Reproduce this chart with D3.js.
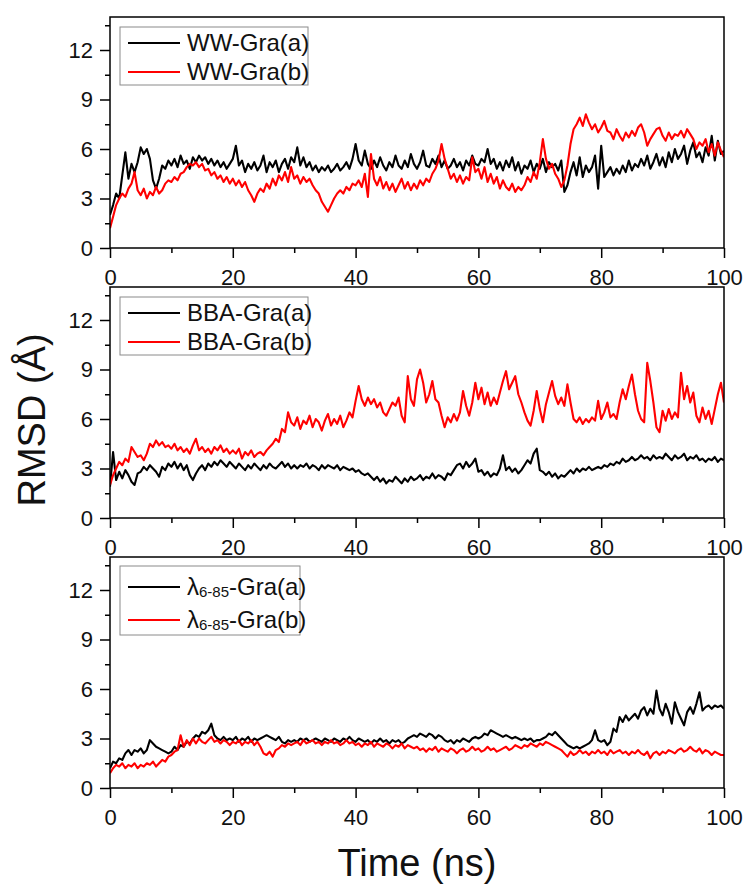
<!DOCTYPE html>
<html>
<head>
<meta charset="utf-8">
<script src="https://cdn.jsdelivr.net/npm/d3@7"></script>
<style>
  html, body { margin: 0; padding: 0; background: #fff; }
  svg { display: block; font-family: "Liberation Sans", Arial, sans-serif; }
</style>
</head>
<body>
<div id="chart"></div>
<script>
// time axis (ns), one sample every 0.5 ns
const timeStep = 0.5;
const xTicksMajor = [0, 20, 40, 60, 80, 100];
const yTicksMajor = [0, 3, 6, 9, 12];

// WW-Gra
const wwA = [
  2.0, 2.6, 3.3, 3.0, 4.4, 5.8, 4.2, 5.1, 4.6, 5.2, 6.1, 5.7, 6.0, 5.4, 4.1, 3.6, 4.2, 5.0, 4.8, 5.3,
  5.0, 5.4, 4.9, 5.6, 5.1, 5.3, 4.8, 5.5, 5.2, 5.6, 5.3, 5.5, 5.1, 5.4, 5.0, 5.3, 4.9, 5.2, 4.8, 5.1,
  5.4, 6.2, 5.0, 5.3, 4.6, 5.1, 4.8, 5.2, 4.7, 5.0, 5.6, 4.6, 5.2, 4.9, 5.3, 4.6, 5.1, 5.4, 4.8, 5.5,
  5.2, 6.1, 5.0, 5.5, 4.9, 5.2, 4.7, 5.0, 4.6, 4.9, 4.7, 5.0, 4.6, 4.8, 5.1, 4.7, 4.9, 5.2, 4.8, 5.4,
  6.3, 5.3, 5.0, 5.9, 5.1, 4.8, 5.3, 4.9, 5.5, 5.0, 4.7, 5.2, 4.9, 5.6, 5.0, 4.8, 5.3, 4.9, 5.7, 5.1,
  4.8, 5.2, 5.9, 5.0, 4.9, 5.4, 5.1, 5.6, 4.9, 5.3, 4.8, 5.0, 5.4, 4.9, 5.2, 4.7, 5.3, 5.0, 5.6, 5.1,
  5.0, 5.4, 5.2, 6.0, 5.1, 5.4, 4.8, 5.2, 4.7, 5.3, 4.9, 5.5, 4.7, 5.2, 4.5, 5.0, 4.8, 5.3, 4.6, 5.1,
  4.8, 5.4, 4.6, 5.2, 4.9, 5.1, 4.7, 5.3, 3.4, 3.8, 4.6, 5.2, 4.4, 5.5, 4.3, 5.0, 4.6, 4.9, 5.6, 3.6,
  6.2, 4.3, 4.6, 4.9, 4.4, 4.8, 4.5, 5.0, 4.6, 5.3, 4.7, 5.1, 4.9, 5.4, 5.0, 5.6, 4.8, 5.2, 5.7, 5.0,
  5.5, 4.9, 5.8, 5.2, 6.0, 5.4, 5.7, 6.2, 5.1, 5.9, 6.4, 5.5, 5.8, 5.2, 6.1, 5.6, 6.8, 5.3, 6.5, 5.7,
  5.9
];
const wwB = [
  1.2, 1.9, 2.6, 3.0, 3.3, 3.1, 3.6, 3.9, 4.6, 3.5, 3.2, 3.6, 3.0, 3.4, 3.2, 3.7, 3.3, 3.5, 3.9, 4.1,
  4.0, 4.3, 4.1, 4.5, 4.6, 4.9, 5.1, 5.0, 5.2, 4.9, 5.1, 4.7, 4.8, 4.4, 4.6, 4.2, 4.4, 4.0, 4.3, 3.9,
  4.2, 3.8, 4.1, 3.7, 4.0, 3.5, 3.2, 2.8, 3.3, 3.6, 3.4, 3.9, 3.6, 4.2, 3.8, 4.4, 4.1, 4.6, 4.0, 4.9,
  4.2, 4.4, 3.9, 4.3, 4.0, 4.2, 3.8, 3.5, 3.3, 2.8, 2.5, 2.2, 2.6, 3.0, 3.3, 3.5, 3.3, 3.7, 3.5, 3.9,
  3.8, 4.1, 3.7, 4.5, 3.1, 5.7, 4.2, 3.8, 4.3, 3.6, 4.0, 3.5, 3.9, 3.4, 3.8, 4.2, 3.6, 4.0, 3.5, 3.9,
  3.6, 4.1, 3.8, 4.2, 4.0, 4.5, 4.8, 5.3, 6.3, 5.4, 4.8, 4.2, 4.5, 4.0, 4.4, 3.9, 4.3, 4.1, 5.5, 4.6,
  4.8, 4.2, 4.9, 4.0, 4.5, 3.9, 4.3, 3.6, 4.1, 3.7, 3.5, 3.9, 3.4, 3.7, 3.5, 3.8, 4.3, 4.0, 4.6, 4.2,
  5.2, 6.6, 5.4, 4.8, 5.1, 4.5, 4.2, 3.7, 4.1, 5.0, 6.3, 7.2, 7.5, 7.9, 7.4, 8.1, 7.6, 7.2, 7.5, 7.0,
  7.3, 7.7, 7.1, 7.0, 6.6, 7.2, 6.8, 6.5, 7.0, 6.7, 7.1, 6.8, 7.3, 7.5, 7.0, 6.2, 6.6, 6.9, 7.2, 7.3,
  6.8, 6.5, 7.0, 6.6, 6.9, 6.8, 7.1, 6.7, 7.2, 6.9, 6.6, 6.0, 6.4, 6.2, 6.6, 5.8, 6.3, 5.6, 6.4, 5.9,
  5.5
];

// BBA-Gra
const bbaA = [
  1.9, 4.0, 2.3, 2.8, 2.4, 2.9, 2.6, 2.2, 2.0, 2.7, 2.8, 3.1, 2.9, 3.2, 3.0, 2.8, 2.5, 3.1, 2.9, 3.3,
  3.1, 3.4, 3.0, 3.3, 2.9, 3.2, 2.6, 2.3, 2.7, 3.0, 3.2, 2.9, 3.3, 3.1, 3.4, 3.2, 3.5, 3.3, 3.1, 3.4,
  3.2, 3.0, 3.3, 3.1, 2.9, 3.2, 3.0, 3.3, 3.1, 2.9, 3.2, 3.0, 3.3, 3.1, 3.0, 3.2, 3.4, 3.1, 3.3, 3.0,
  3.2, 3.0, 3.2, 3.1, 3.3, 3.0, 3.2, 3.1, 2.9, 3.2, 3.0, 3.2, 3.1, 3.0, 3.2, 2.9, 3.1, 3.0, 2.9, 3.0,
  2.8, 2.9, 2.7, 2.6, 2.7, 2.5, 2.3, 2.5, 2.2, 2.4, 2.1, 2.3, 2.2, 2.5, 2.3, 2.1, 2.4, 2.2, 2.5, 2.3,
  2.4, 2.6, 2.3, 2.5, 2.4, 2.7, 2.4, 2.6, 2.5, 2.3, 2.7, 2.6, 2.9, 3.2, 3.3, 3.0, 3.4, 3.1, 3.3, 3.6,
  2.8, 2.9, 2.6, 2.8, 2.5, 2.7, 2.6, 3.0, 3.8, 2.9, 3.1, 2.8, 3.0, 2.7, 2.9, 3.2, 3.5, 3.3, 3.9, 4.2,
  2.9, 2.8, 2.6, 2.8, 2.5, 2.7, 2.4, 2.6, 2.5, 2.7, 2.9, 2.7, 3.0, 2.8, 3.0, 2.9, 3.1, 2.9, 3.0, 3.1,
  3.0, 3.2, 3.1, 3.3, 3.2, 3.4, 3.3, 3.6, 3.4, 3.5, 3.7, 3.5, 3.6, 3.8, 3.6, 3.7, 3.5, 3.8, 3.6, 3.7,
  3.6, 3.9, 3.7, 3.5, 3.8, 3.6, 3.7, 3.9, 3.5, 3.7, 3.6, 3.8, 3.5, 3.6, 3.4, 3.6, 3.5, 3.7, 3.4, 3.6,
  3.5
];
const bbaB = [
  2.0, 2.6, 3.0, 3.4, 3.2, 3.6, 3.4, 4.3, 4.0, 3.7, 3.8, 3.5, 3.9, 4.5, 4.3, 4.7, 4.4, 4.6, 4.3, 4.4,
  4.2, 4.5, 4.1, 4.3, 4.0, 4.2, 3.9, 4.4, 4.8, 4.1, 4.3, 4.0, 4.2, 3.9, 4.3, 4.1, 4.4, 4.0, 4.2, 3.9,
  4.1, 3.9, 4.2, 3.6, 4.0, 3.8, 4.1, 3.7, 3.9, 4.0, 3.8, 4.1, 4.3, 4.5, 4.8, 4.6, 5.4, 5.2, 6.4, 5.8,
  5.6, 6.1, 5.4, 5.9, 5.7, 6.2, 5.5, 6.0, 5.8, 5.3, 5.9, 6.3, 5.6, 6.0, 5.7, 6.2, 5.5, 5.9, 6.4, 6.1,
  7.1, 8.0, 7.2, 6.8, 7.3, 6.9, 7.2, 6.7, 7.0, 6.4, 6.2, 6.6, 7.0, 6.8, 7.3, 6.2, 5.8, 8.6, 7.2, 6.8,
  8.4, 9.0, 8.2, 7.0, 7.5, 8.3, 7.2, 7.0, 6.2, 5.5, 6.1, 5.8, 6.3, 5.9, 6.4, 7.7, 6.8, 6.2, 7.0, 8.2,
  7.2, 7.9, 6.9, 7.6, 6.8, 7.3, 6.9, 7.6, 8.3, 8.9, 7.8, 8.2, 8.6, 7.5, 7.0, 6.4, 5.9, 5.6, 6.5, 7.7,
  6.6, 5.8, 6.9, 7.6, 8.3, 7.4, 6.9, 7.3, 6.8, 8.1, 7.0, 6.0, 5.8, 6.1, 5.7, 6.0, 5.8, 6.1, 5.9, 7.1,
  6.0, 6.4, 7.0, 6.1, 6.3, 6.0, 7.0, 7.8, 7.2, 8.0, 8.7, 7.5, 6.5, 6.0, 5.8, 9.4, 8.3, 7.0, 5.5, 5.2,
  6.5, 5.9, 6.6, 6.0, 6.4, 6.1, 8.8, 7.2, 8.0, 7.0, 7.6, 6.2, 5.8, 6.7, 6.0, 6.5, 5.7, 6.6, 7.5, 8.2,
  7.0
];

// lambda 6-85 - Gra
const lamA = [
  1.2, 1.6, 1.5, 1.8, 1.7, 2.1, 2.3, 2.0, 2.3, 2.2, 2.4, 2.1, 2.3, 2.9, 2.7, 2.5, 2.4, 2.3, 2.2, 2.1,
  2.2, 2.5, 2.3, 2.6, 2.5, 2.8, 2.7, 3.0, 3.2, 3.1, 3.4, 3.3, 3.5, 3.9, 3.2, 3.0, 2.9, 3.1, 2.9, 3.0,
  2.9, 3.1, 2.8, 3.0, 2.9, 3.1, 2.8, 3.0, 2.9, 3.0, 3.1, 3.2, 3.1, 3.0, 2.9, 3.1, 2.8, 2.7, 2.9, 2.8,
  2.9, 2.8, 3.0, 2.9, 3.0, 2.8, 2.9, 3.0, 2.9, 2.8, 3.0, 2.9, 2.8, 3.0, 2.9, 2.8, 3.0, 2.9, 3.1, 2.9,
  2.8, 3.0, 2.9, 2.8, 2.9, 2.7, 2.9, 2.8, 3.0, 2.8, 2.9, 2.7, 2.9, 2.8, 2.9, 2.7, 2.8, 3.0, 3.1, 3.2,
  3.1, 3.3, 3.2, 3.1, 3.3, 3.2, 3.0, 3.2, 3.1, 2.9, 2.8, 2.9, 2.7, 2.9, 2.8, 3.0, 2.9, 2.8, 3.0, 3.1,
  3.0, 3.1, 3.3, 3.2, 3.5, 3.4, 3.3, 3.2, 3.1, 3.2, 3.1, 3.0, 3.1, 3.0, 2.9, 3.0, 2.9, 3.0, 2.8, 2.9,
  2.9, 3.0, 3.1, 3.3, 3.2, 3.4, 3.2, 3.0, 2.8, 2.6, 2.5, 2.4, 2.5, 2.4, 2.5, 2.6, 2.7, 2.9, 3.5, 2.9,
  2.8, 2.9, 2.6, 2.8, 3.6, 3.4, 4.3, 4.0, 4.4, 4.1, 4.3, 4.5, 4.2, 4.7, 4.9, 4.4, 4.8, 4.5, 5.9, 4.8,
  4.4, 5.1, 4.6, 3.9, 5.2, 4.6, 4.2, 3.8, 4.6, 4.9, 4.5, 5.1, 5.8, 4.7, 4.9, 5.0, 4.8, 5.0, 4.9, 5.0,
  4.8
];
const lamB = [
  0.9, 1.2, 1.4, 1.3, 1.5, 1.2, 1.4, 1.3, 1.5, 1.2, 1.4, 1.3, 1.5, 1.4, 1.6, 1.3, 1.5, 1.7, 1.6, 1.9,
  2.0, 2.2, 2.3, 3.2, 2.5, 2.9, 2.6, 3.0, 2.7, 3.0, 2.8, 2.7, 2.9, 3.1, 2.8, 2.9, 2.7, 2.9, 2.8, 2.6,
  2.8, 2.7, 2.9, 2.6, 2.8, 2.7, 2.9, 2.6, 2.8, 2.5, 2.1, 2.0, 2.2, 1.9, 2.3, 2.4, 2.6, 2.5, 2.7, 2.6,
  2.7, 2.8, 2.6, 2.9, 2.7, 2.8, 2.9, 2.7, 2.8, 2.6, 2.8, 2.7, 2.9, 2.7, 2.8, 2.6, 2.7, 2.9, 2.7, 2.8,
  2.6, 2.7, 2.5, 2.7, 2.6, 2.8, 2.5, 2.7, 2.6, 2.5, 2.7, 2.6, 2.4, 2.6, 2.5, 2.7, 2.4, 2.6, 2.5, 2.4,
  2.5, 2.3, 2.4, 2.2, 2.4, 2.3, 2.5, 2.2, 2.4, 2.3, 2.2, 2.4, 2.3, 2.1, 2.3, 2.4, 2.2, 2.3, 2.5, 2.3,
  2.4, 2.2, 2.3, 2.5, 2.3, 2.4, 2.2, 2.3, 2.4, 2.5, 2.3, 2.4, 2.6, 2.5, 2.4, 2.6, 2.5, 2.7, 2.6, 2.5,
  2.7, 2.6, 2.8, 2.7, 2.6, 2.5, 2.4, 2.3, 2.1, 1.9, 2.2, 2.0, 2.1, 2.3, 2.1, 2.2, 2.0, 2.2, 2.1, 2.3,
  2.1, 2.2, 2.0, 2.3, 2.1, 2.2, 2.3, 2.1, 2.2, 2.0, 2.2, 2.1, 2.3, 2.1, 2.0, 2.2, 1.8, 2.1, 2.2, 2.0,
  2.2, 2.1, 2.3, 2.2, 2.1, 2.3, 2.4, 2.2, 2.3, 2.5, 2.3, 2.2, 2.4, 2.1, 2.3, 2.2, 2.0, 2.2, 2.1, 2.0,
  2.0
];

const panels = [
  { a: wwA, b: wwB, labels: [["WW-Gra(a)"], ["WW-Gra(b)"]] },
  { a: bbaA, b: bbaB, labels: [["BBA-Gra(a)"], ["BBA-Gra(b)"]] },
  { a: lamA, b: lamB, labels: [["λ", "6-85", "-Gra(a)"], ["λ", "6-85", "-Gra(b)"]] }
];

const W = 749, H = 893;
const left = 110, plotW = 614, plotH = 231;
const panelTops = [17, 287, 557];

const svg = d3.select("#chart").append("svg")
  .attr("width", W).attr("height", H);

const x = d3.scaleLinear().domain([0, 100]).range([0, plotW]);
const y = d3.scaleLinear().domain([0, 14]).range([plotH, 0]);

const line = d3.line()
  .x((d, i) => x(i * timeStep))
  .y(d => y(d));

panels.forEach((p, k) => {
  const g = svg.append("g").attr("transform", `translate(${left},${panelTops[k]})`);

  // clip the traces to the frame
  g.append("clipPath").attr("id", "clip" + k)
    .append("rect").attr("width", plotW).attr("height", plotH);

  const traces = g.append("g").attr("clip-path", `url(#clip${k})`);
  traces.append("path").datum(p.a)
    .attr("fill", "none").attr("stroke", "#000").attr("stroke-width", 2.1)
    .attr("stroke-linejoin", "round").attr("d", line);
  traces.append("path").datum(p.b)
    .attr("fill", "none").attr("stroke", "#ff0000").attr("stroke-width", 2.1)
    .attr("stroke-linejoin", "round").attr("d", line);

  // bottom axis: major + minor ticks
  g.append("g").attr("transform", `translate(0,${plotH})`)
    .call(d3.axisBottom(x).tickValues(xTicksMajor).tickSize(10).tickPadding(11).tickFormat(d3.format("d")));
  g.append("g").attr("transform", `translate(0,${plotH})`)
    .call(d3.axisBottom(x).tickValues(d3.range(10, 100, 20)).tickSize(5).tickFormat(""));

  // left axis: major + minor ticks
  g.append("g")
    .call(d3.axisLeft(y).tickValues(yTicksMajor).tickSize(10).tickPadding(7).tickFormat(d3.format("d")));
  g.append("g")
    .call(d3.axisLeft(y).tickValues(d3.range(1.5, 14, 3)).tickSize(5).tickFormat(""));

  g.selectAll(".domain").remove();
  g.selectAll(".tick line").attr("stroke", "#000").attr("stroke-width", 1.5);
  g.selectAll(".tick text").attr("font-size", 22).attr("fill", "#111")
    .attr("font-family", "'Liberation Sans', Arial, sans-serif");

  // frame
  g.append("rect").attr("width", plotW).attr("height", plotH)
    .attr("fill", "none").attr("stroke", "#000").attr("stroke-width", 1.5);

  // legend
  const isLam = k === 2;
  const boxTop = isLam ? 9 : 10;
  const boxH = isLam ? 69 : 58;
  const boxW = isLam ? 180 : 188;
  const rows = isLam ? [30, 63] : [26, 55];
  const leg = g.append("g").attr("transform", "translate(10,0)");
  leg.append("rect").attr("x", 0).attr("y", boxTop).attr("width", boxW).attr("height", boxH)
    .attr("fill", "#fff").attr("stroke", "#8a8a8a").attr("stroke-width", 1);
  [["#000", p.labels[0]], ["#ff0000", p.labels[1]]].forEach(([col, parts], r) => {
    leg.append("line").attr("x1", 8).attr("x2", 60).attr("y1", rows[r]).attr("y2", rows[r])
      .attr("stroke", col).attr("stroke-width", 2);
    const t = leg.append("text").attr("x", 67).attr("y", rows[r] + 8)
      .attr("font-size", 24).attr("fill", "#111");
    if (parts.length === 1) {
      t.text(parts[0]);
    } else {
      t.append("tspan").text(parts[0]);
      t.append("tspan").attr("font-size", 15).attr("dy", 2).text(parts[1]);
      t.append("tspan").attr("dy", -2).text(parts[2]);
    }
  });
});

// axis titles
svg.append("text")
  .attr("transform", "translate(45,420) rotate(-90)")
  .attr("text-anchor", "middle").attr("font-size", 38).attr("fill", "#111")
  .text("RMSD (Å)");

svg.append("text")
  .attr("x", 417).attr("y", 876)
  .attr("text-anchor", "middle").attr("font-size", 38).attr("fill", "#111")
  .text("Time (ns)");
</script>
</body>
</html>
